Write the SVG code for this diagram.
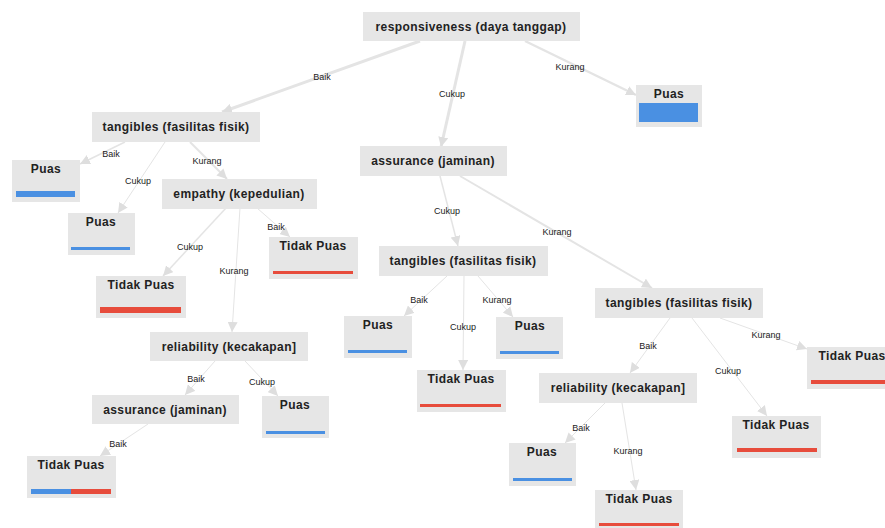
<svg xmlns="http://www.w3.org/2000/svg" width="885" height="528" viewBox="0 0 885 528">
<defs>
<style>
.box{fill:#e6e6e6;}
.nt{font-family:"Liberation Sans",Arial,sans-serif;font-size:12px;font-weight:bold;fill:#222;text-anchor:middle;letter-spacing:0.4px;}
.lt{font-family:"Liberation Sans",Arial,sans-serif;font-size:9px;fill:#222;text-anchor:middle;}
.e{stroke:#e4e4e4;fill:none;marker-end:url(#ah);}
.blue{fill:#4a90e2;}
.red{fill:#e74c3c;}
</style>
<marker id="ah" viewBox="0 0 10 10" refX="10" refY="5" markerWidth="10" markerHeight="10" markerUnits="userSpaceOnUse" orient="auto">
<path d="M0,0 L10,5 L0,10 Z" fill="#dedede"/>
</marker>
</defs>
<rect width="885" height="528" fill="#ffffff"/>

<g id="connectors">
<line class="e" x1="420" y1="41" x2="222" y2="112" stroke-width="3"/>
<line class="e" x1="465" y1="41" x2="441" y2="147" stroke-width="3"/>
<line class="e" x1="525" y1="41" x2="636" y2="95" stroke-width="2.5"/>
<line class="e" x1="125" y1="142" x2="80" y2="164" stroke-width="1.5"/>
<line class="e" x1="165" y1="142" x2="118" y2="213" stroke-width="1"/>
<line class="e" x1="190" y1="142" x2="227" y2="179" stroke-width="2"/>
<line class="e" x1="257" y1="208" x2="290" y2="237" stroke-width="1"/>
<line class="e" x1="226" y1="208" x2="163" y2="276" stroke-width="1.5"/>
<line class="e" x1="240" y1="208" x2="232" y2="332" stroke-width="1"/>
<line class="e" x1="215" y1="361" x2="185" y2="395" stroke-width="1"/>
<line class="e" x1="245" y1="361" x2="278" y2="396" stroke-width="1"/>
<line class="e" x1="148" y1="424" x2="100" y2="456" stroke-width="1"/>
<line class="e" x1="440" y1="176" x2="458" y2="246" stroke-width="1.5"/>
<line class="e" x1="460" y1="176" x2="652" y2="288" stroke-width="2"/>
<line class="e" x1="447" y1="276" x2="404" y2="316" stroke-width="1"/>
<line class="e" x1="464" y1="276" x2="463" y2="370" stroke-width="1"/>
<line class="e" x1="478" y1="276" x2="513" y2="317" stroke-width="1"/>
<line class="e" x1="670" y1="318" x2="630" y2="373" stroke-width="1"/>
<line class="e" x1="692" y1="318" x2="767" y2="416" stroke-width="1"/>
<line class="e" x1="720" y1="318" x2="807" y2="349" stroke-width="1"/>
<line class="e" x1="605" y1="403" x2="565" y2="443" stroke-width="1"/>
<line class="e" x1="622" y1="403" x2="636" y2="490" stroke-width="1"/>
<text class="lt" x="322" y="80">Baik</text>
<text class="lt" x="452" y="97">Cukup</text>
<text class="lt" x="570" y="70">Kurang</text>
<text class="lt" x="111" y="157">Baik</text>
<text class="lt" x="138" y="184">Cukup</text>
<text class="lt" x="207" y="164">Kurang</text>
<text class="lt" x="276" y="230">Baik</text>
<text class="lt" x="190" y="250">Cukup</text>
<text class="lt" x="234" y="274">Kurang</text>
<text class="lt" x="196" y="382">Baik</text>
<text class="lt" x="262" y="385">Cukup</text>
<text class="lt" x="118" y="447">Baik</text>
<text class="lt" x="447" y="214">Cukup</text>
<text class="lt" x="557" y="235">Kurang</text>
<text class="lt" x="419" y="303">Baik</text>
<text class="lt" x="463" y="330">Cukup</text>
<text class="lt" x="497" y="303">Kurang</text>
<text class="lt" x="648" y="349">Baik</text>
<text class="lt" x="728" y="374">Cukup</text>
<text class="lt" x="766" y="338">Kurang</text>
<text class="lt" x="581" y="431">Baik</text>
<text class="lt" x="628" y="454">Kurang</text>
</g>

<g id="n-root"><rect class="box" x="363" y="12" width="217" height="29"/><text class="nt" x="471" y="31">responsiveness (daya tanggap)</text></g>
<g id="n-puas-top"><rect class="box" x="636" y="85" width="66" height="42"/><text class="nt" x="669" y="98">Puas</text><rect class="blue" x="639" y="103" width="59" height="19"/></g>

<g id="n-tangibles-1"><rect class="box" x="92" y="112" width="168" height="30"/><text class="nt" x="176" y="131">tangibles (fasilitas fisik)</text></g>
<g id="n-puas-1"><rect class="box" x="12" y="160" width="68" height="42"/><text class="nt" x="46" y="173">Puas</text><rect class="blue" x="16" y="191" width="59" height="6"/></g>
<g id="n-puas-2"><rect class="box" x="68" y="213" width="67" height="42"/><text class="nt" x="101" y="226">Puas</text><rect class="blue" x="71" y="247" width="59" height="3"/></g>
<g id="n-empathy"><rect class="box" x="162" y="179" width="155" height="30"/><text class="nt" x="239" y="198">empathy (kepedulian)</text></g>
<g id="n-tp-1"><rect class="box" x="96" y="276" width="90" height="42"/><text class="nt" x="141" y="289">Tidak Puas</text><rect class="red" x="100" y="307" width="81" height="6"/></g>
<g id="n-tp-2"><rect class="box" x="269" y="237" width="89" height="42"/><text class="nt" x="313" y="250">Tidak Puas</text><rect class="red" x="273" y="271" width="80" height="3"/></g>
<g id="n-reliability-1"><rect class="box" x="150" y="332" width="158" height="29"/><text class="nt" x="229" y="351">reliability (kecakapan]</text></g>
<g id="n-puas-3"><rect class="box" x="262" y="396" width="67" height="42"/><text class="nt" x="295" y="409">Puas</text><rect class="blue" x="266" y="431" width="59" height="3"/></g>
<g id="n-assurance-1"><rect class="box" x="92" y="395" width="147" height="29"/><text class="nt" x="165" y="414">assurance (jaminan)</text></g>
<g id="n-tp-3"><rect class="box" x="27" y="456" width="89" height="42"/><text class="nt" x="71" y="469">Tidak Puas</text><rect class="blue" x="31" y="489" width="40" height="5"/><rect class="red" x="71" y="489" width="40" height="5"/></g>

<g id="n-assurance-2"><rect class="box" x="360" y="146" width="147" height="30"/><text class="nt" x="433" y="165">assurance (jaminan)</text></g>
<g id="n-tangibles-2"><rect class="box" x="379" y="246" width="169" height="30"/><text class="nt" x="463" y="265">tangibles (fasilitas fisik)</text></g>
<g id="n-puas-4"><rect class="box" x="344" y="316" width="68" height="42"/><text class="nt" x="378" y="329">Puas</text><rect class="blue" x="348" y="350" width="59" height="3"/></g>
<g id="n-puas-5"><rect class="box" x="496" y="317" width="67" height="42"/><text class="nt" x="530" y="330">Puas</text><rect class="blue" x="500" y="351" width="59" height="3"/></g>
<g id="n-tp-4"><rect class="box" x="417" y="370" width="89" height="42"/><text class="nt" x="461" y="383">Tidak Puas</text><rect class="red" x="420" y="404" width="81" height="3"/></g>

<g id="n-tangibles-3"><rect class="box" x="595" y="288" width="168" height="30"/><text class="nt" x="679" y="307">tangibles (fasilitas fisik)</text></g>
<g id="n-tp-5"><rect class="box" x="807" y="347" width="90" height="42"/><text class="nt" x="852" y="360">Tidak Puas</text><rect class="red" x="811" y="380" width="81" height="4"/></g>
<g id="n-reliability-2"><rect class="box" x="539" y="373" width="158" height="30"/><text class="nt" x="618" y="392">reliability (kecakapan]</text></g>
<g id="n-tp-6"><rect class="box" x="732" y="416" width="89" height="42"/><text class="nt" x="776" y="429">Tidak Puas</text><rect class="red" x="737" y="448" width="80" height="4"/></g>
<g id="n-puas-6"><rect class="box" x="509" y="443" width="67" height="43"/><text class="nt" x="542" y="456">Puas</text><rect class="blue" x="513" y="478" width="59" height="3"/></g>
<g id="n-tp-7"><rect class="box" x="595" y="490" width="88" height="42"/><text class="nt" x="639" y="503">Tidak Puas</text><rect class="red" x="599" y="523" width="80" height="3"/></g>
</svg>
